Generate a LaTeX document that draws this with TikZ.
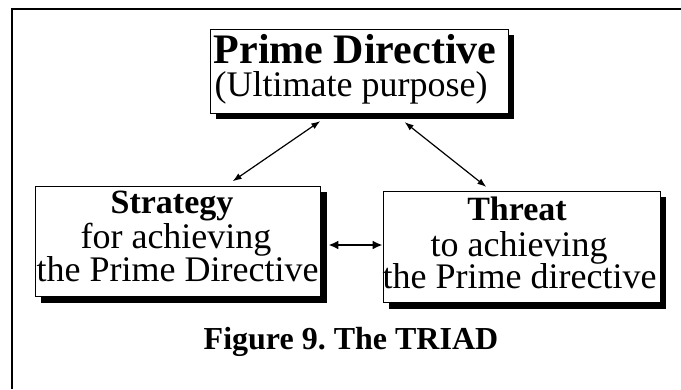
\documentclass[tikz,border=0pt]{standalone}
\usepackage{fontspec}
\setmainfont{Liberation Serif}
\usetikzlibrary{arrows.meta,calc}
\frenchspacing

\tikzset{
  panel/.style={draw=black, line width=0.8pt, fill=white, inner sep=0pt,
    minimum width=#1},
  shade/.style={fill=black, draw=none},
  headline/.style={anchor=base, inner sep=0pt, font=\fontsize{34}{34}\selectfont\bfseries},
  bodyline/.style={anchor=base, inner sep=0pt, font=\fontsize{36}{36}\selectfont},
  thinlink/.style={line width=1.2pt, {Latex[length=9pt,width=6.5pt]}-{Latex[length=9pt,width=6.5pt]}},
  thicklink/.style={line width=2.4pt, {Latex[length=10pt,width=9pt]}-{Latex[length=10pt,width=9pt]}},
  frameline/.style={line width=2pt, line cap=butt}
}

\begin{document}
\begin{tikzpicture}[x=1pt, y=-1pt]
  \useasboundingbox (0,0) rectangle (681,389);

  % open frame along the left and top edges
  \coordinate (fb) at (11.8,389);
  \coordinate (fc) at (11.8,8.8);
  \coordinate (fr) at (681,8.8);
  \draw[frameline] (fb) -- (fc) -- (fr);

  % drop shadows
  \fill[shade] (216,35) rectangle (514,119);
  \fill[shade] (41,192) rectangle (326.5,302.5);
  \fill[shade] (389,197) rectangle (666,308.5);

  % boxes
  \node[panel=298pt, minimum height=84pt] (prime) at (359,71) {};
  \node[panel=285pt, minimum height=110pt] (strat) at (177.5,241) {};
  \node[panel=277pt, minimum height=111pt] (threat) at (521.5,246.5) {};

  % box texts
  \node[anchor=base, inner sep=0pt, font=\fontsize{42}{42}\selectfont\bfseries]
    (primeA) at (355,63) {Prime Directive};
  \node[bodyline] (primeB) at (351,96.5) {(Ultimate purpose)};

  \node[headline] (stratA) at (172,213) {Strategy};
  \node[bodyline] (stratB) at (176,248) {for achieving};
  \node[bodyline] (stratC) at (177.5,281) {the Prime Directive};

  \node[headline] (threatA) at (517,220) {Threat};
  \node[bodyline] (threatB) at (519,256) {to achieving};
  \node[bodyline] (threatC) at (519.5,288.5) {the Prime directive};

  % caption
  \node[anchor=base, inner sep=0pt, font=\fontsize{32}{32}\selectfont\bfseries]
    (caption) at (351,349) {Figure 9. The TRIAD};

  % connectors
  \coordinate (pL) at ($(prime.south west)+(110.7,7.7)$);
  \coordinate (pR) at ($(prime.south west)+(195,8.7)$);
  \coordinate (sT) at ($(strat.north west)+(198,-4.3)$);
  \coordinate (tT) at ($(threat.north west)+(103.7,-3.7)$);
  \coordinate (sE) at ($(strat.east)+(8,4)$);
  \coordinate (tW) at ($(threat.west)+(0,-1.5)$);

  \draw[thinlink] (pL) -- (sT);
  \draw[thinlink] (pR) -- (tT);
  \draw[thicklink] (sE) -- (tW);
\end{tikzpicture}
\end{document}
